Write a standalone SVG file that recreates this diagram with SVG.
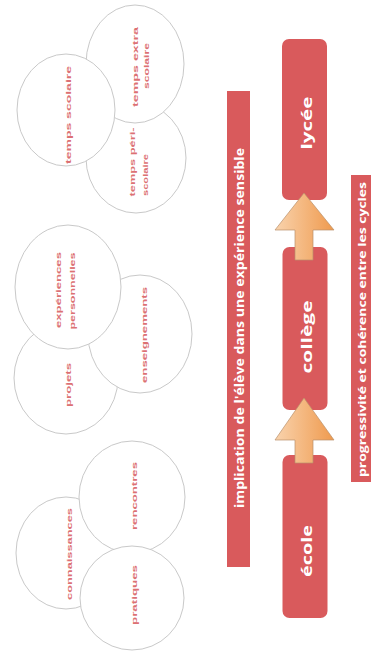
<svg xmlns="http://www.w3.org/2000/svg" width="371" height="652" viewBox="0 0 371 652">
<defs>
<linearGradient id="arrowGrad" x1="0" y1="0" x2="1" y2="0">
<stop offset="0" stop-color="#f9d3ad"/>
<stop offset="1" stop-color="#ef9a4e"/>
</linearGradient>
<style>
.circ{fill:#ffffff;stroke:#c9c9c9;stroke-width:1}
.ct{font-family:"Liberation Sans",Arial,sans-serif;font-weight:bold;font-size:8px;fill:#dc7173;text-anchor:middle}
.bar{fill:#d95a5c}
.bt{font-family:"Open Sans","Liberation Sans",sans-serif;font-weight:bold;fill:#ffffff;text-anchor:middle}
.box{fill:#d95a5c}
.arrow{fill:url(#arrowGrad);stroke:#b9906c;stroke-width:0.7}
</style>
</defs>
<rect x="0" y="0" width="371" height="652" fill="#ffffff"/>

<!-- group 1 -->
<g id="temps-peri-scolaire">
<ellipse class="circ" cx="136" cy="158" rx="50" ry="55"/>
<text class="ct" transform="translate(135,162) rotate(-90)" textLength="69" lengthAdjust="spacingAndGlyphs">temps péri-</text>
<text class="ct" transform="translate(148,175) rotate(-90)" textLength="42" lengthAdjust="spacingAndGlyphs">scolaire</text>
</g>
<g id="temps-extra-scolaire">
<ellipse class="circ" cx="135" cy="64" rx="49" ry="59"/>
<text class="ct" transform="translate(138,67) rotate(-90)" textLength="80" lengthAdjust="spacingAndGlyphs">temps extra</text>
<text class="ct" transform="translate(149,66) rotate(-90)" textLength="46" lengthAdjust="spacingAndGlyphs">scolaire</text>
</g>
<g id="temps-scolaire">
<ellipse class="circ" cx="66" cy="110" rx="49" ry="56"/>
<text class="ct" transform="translate(71,115) rotate(-90)" textLength="98" lengthAdjust="spacingAndGlyphs">temps scolaire</text>
</g>

<!-- group 2 -->
<g id="projets">
<ellipse class="circ" cx="66" cy="378" rx="52" ry="56"/>
<text class="ct" transform="translate(71,385) rotate(-90)" textLength="44" lengthAdjust="spacingAndGlyphs">projets</text>
</g>
<g id="enseignements">
<ellipse class="circ" cx="140" cy="334" rx="52" ry="59"/>
<text class="ct" transform="translate(147,335) rotate(-90)" textLength="96" lengthAdjust="spacingAndGlyphs">enseignements</text>
</g>
<g id="experiences-personnelles">
<ellipse class="circ" cx="68" cy="287" rx="53" ry="62"/>
<text class="ct" transform="translate(61,290) rotate(-90)" textLength="76" lengthAdjust="spacingAndGlyphs">expériences</text>
<text class="ct" transform="translate(75,291) rotate(-90)" textLength="77" lengthAdjust="spacingAndGlyphs">personnelles</text>
</g>

<!-- group 3 -->
<g id="connaissances">
<ellipse class="circ" cx="66" cy="553" rx="50" ry="56"/>
<text class="ct" transform="translate(72,554) rotate(-90)" textLength="92" lengthAdjust="spacingAndGlyphs">connaissances</text>
</g>
<g id="rencontres">
<ellipse class="circ" cx="132" cy="497" rx="53" ry="56"/>
<text class="ct" transform="translate(137,496) rotate(-90)" textLength="68" lengthAdjust="spacingAndGlyphs">rencontres</text>
</g>
<g id="pratiques">
<ellipse class="circ" cx="132" cy="598" rx="52" ry="52"/>
<text class="ct" transform="translate(137,595) rotate(-90)" textLength="60" lengthAdjust="spacingAndGlyphs">pratiques</text>
</g>

<!-- bars -->
<g id="implication">
<rect class="bar" x="227" y="91" width="23" height="476"/>
<text class="bt" font-size="11.5" transform="translate(243.5,328) rotate(-90)" textLength="360" lengthAdjust="spacingAndGlyphs">implication de l'élève dans une expérience sensible</text>
</g>
<g id="progressivite">
<rect class="bar" x="351" y="175" width="21" height="307"/>
<text class="bt" font-size="10.5" transform="translate(366,329.5) rotate(-90)" textLength="295" lengthAdjust="spacingAndGlyphs">progressivité et cohérence entre les cycles</text>
</g>

<!-- boxes -->
<g id="lycee">
<rect class="box" x="282" y="39" width="45" height="161" rx="7"/>
<text class="bt" font-size="15" transform="translate(312,123) rotate(-90)" textLength="53" lengthAdjust="spacingAndGlyphs">lycée</text>
</g>
<g id="college">
<rect class="box" x="282.5" y="247" width="45" height="163" rx="7"/>
<text class="bt" font-size="15" transform="translate(312,337) rotate(-90)" textLength="73" lengthAdjust="spacingAndGlyphs">collège</text>
</g>
<g id="ecole">
<rect class="box" x="282.5" y="455" width="45" height="163" rx="7"/>
<text class="bt" font-size="15" transform="translate(312,551) rotate(-90)" textLength="52" lengthAdjust="spacingAndGlyphs">école</text>
</g>

<!-- connectors -->
<g id="connectors">
<polygon class="arrow" points="304,398 334,440 313,440 313,463 295,463 295,440 275,440"/>
<polygon class="arrow" points="304,193 334,230 313,230 313,260 295,260 295,230 275,230"/>
</g>
</svg>
